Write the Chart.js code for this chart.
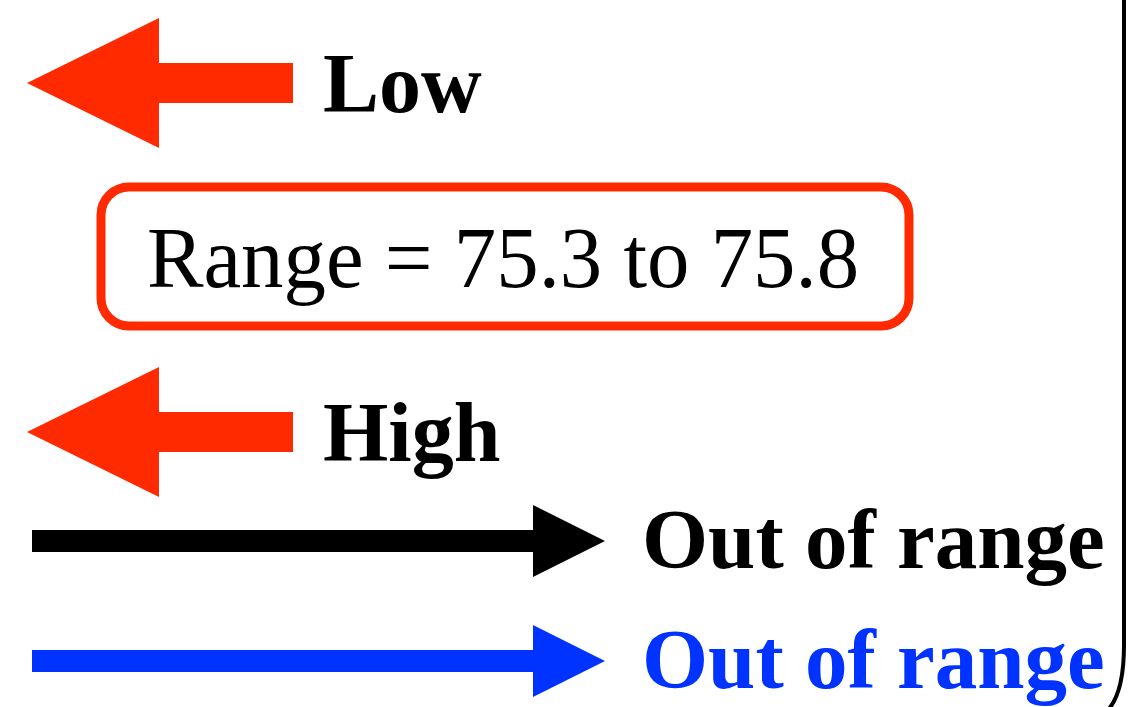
<!DOCTYPE html>
<html>
<head>
<meta charset="utf-8">
<script src="https://cdn.jsdelivr.net/npm/chart.js@4.4.1/dist/chart.umd.min.js"></script>
<style>
  html, body { margin: 0; padding: 0; background: #fff; }
  #wrap { width: 1128px; height: 707px; }
</style>
</head>
<body>
<div id="wrap"><canvas id="legendChart"></canvas></div>
<script>
// range values shown in the box
const rangeLow = 75.3;
const rangeHigh = 75.8;

// rows of the diagram, top to bottom
const rowLabels = ['Low', 'Range = ' + rangeLow + ' to ' + rangeHigh, 'High', 'Out of range', 'Out of range'];
const rowY = [83, 256, 432, 541, 661];
const rowTextColors = ['#000000', '#000000', '#000000', '#000000', '#0033ff'];
const arrowDir = ['left', null, 'left', 'right', 'right'];
const arrowColors = ['#ff2a00', null, '#ff2a00', '#000000', '#0033ff'];
// arrow tail / tip x values
const arrowTail = [293, null, 293, 32, 32];
const arrowTip = [27, null, 27, 605, 605];

const diagramPlugin = {
  id: 'diagram',
  afterDraw(chart) {
    const ctx = chart.ctx;
    const xs = chart.scales.x;
    const ys = chart.scales.y;
    ctx.save();

    // arrows
    rowLabels.forEach((label, i) => {
      if (!arrowDir[i]) return;
      const cy = ys.getPixelForValue(rowY[i]);
      const tail = xs.getPixelForValue(arrowTail[i]);
      const tip = xs.getPixelForValue(arrowTip[i]);
      const big = arrowDir[i] === 'left';
      const headLen = big ? 132 : 72;
      const headHalf = big ? 65 : 36;
      const shaftHalf = big ? 20 : 11;
      const dir = tip > tail ? 1 : -1;
      const base = tip - dir * headLen;
      ctx.fillStyle = arrowColors[i];
      ctx.beginPath();
      ctx.moveTo(tail, cy - shaftHalf);
      ctx.lineTo(base, cy - shaftHalf);
      ctx.lineTo(base, cy - headHalf);
      ctx.lineTo(tip, cy);
      ctx.lineTo(base, cy + headHalf);
      ctx.lineTo(base, cy + shaftHalf);
      ctx.lineTo(tail, cy + shaftHalf);
      ctx.closePath();
      ctx.fill();
    });

    // labels
    ctx.textBaseline = 'alphabetic';
    rowLabels.forEach((label, i) => {
      const cy = ys.getPixelForValue(rowY[i]);
      ctx.fillStyle = rowTextColors[i];
      if (i === 1) {
        // boxed range text
        ctx.strokeStyle = '#ff2a00';
        ctx.lineWidth = 9;
        ctx.beginPath();
        ctx.roundRect(101, cy - 69, 808, 139, 28);
        ctx.stroke();
        ctx.font = '87px "Liberation Serif", "Times New Roman", serif';
        ctx.textAlign = 'center';
        ctx.save();
        ctx.translate(503, cy + 31);
        ctx.scale(0.975, 1);
        ctx.fillText(label, 0, 0);
        ctx.restore();
      } else if (arrowDir[i] === 'left') {
        ctx.font = 'bold 84px "Liberation Serif", "Times New Roman", serif';
        ctx.textAlign = 'left';
        ctx.fillText(label, 323, cy + 29);
      } else {
        ctx.font = 'bold 85px "Liberation Serif", "Times New Roman", serif';
        ctx.textAlign = 'left';
        ctx.fillText(label, 642, cy + 27);
      }
    });

    // right frame edge with rounded bottom corner
    ctx.strokeStyle = '#000';
    ctx.lineWidth = 4;
    ctx.beginPath();
    ctx.moveTo(1124, -5);
    ctx.lineTo(1124, 645);
    ctx.quadraticCurveTo(1124, 695, 1106, 712);
    ctx.stroke();

    ctx.restore();
  }
};

new Chart(document.getElementById('legendChart'), {
  type: 'scatter',
  data: {
    datasets: [{
      data: rowY.map((y, i) => ({ x: arrowTail[i] ?? 0, y: y })),
      pointRadius: 0,
      showLine: false
    }]
  },
  options: {
    responsive: true,
    maintainAspectRatio: false,
    animation: false,
    events: [],
    layout: { padding: 0 },
    plugins: { legend: { display: false }, tooltip: { enabled: false } },
    scales: {
      x: { type: 'linear', min: 0, max: 1128, display: false },
      y: { type: 'linear', min: 0, max: 707, reverse: true, display: false }
    }
  },
  plugins: [diagramPlugin]
});
</script>
</body>
</html>
